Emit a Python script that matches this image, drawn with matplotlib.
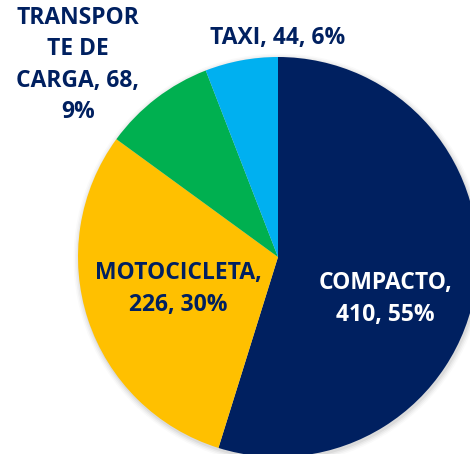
import matplotlib.pyplot as plt

# data
categories = ["COMPACTO", "MOTOCICLETA", "TRANSPORTE DE CARGA", "TAXI"]
values = [410, 226, 68, 44]
percents = [55, 30, 9, 6]
colors = ["#002060", "#FFC000", "#00B050", "#00B0F0"]

label_texts = [
    "COMPACTO,\n410, 55%",
    "MOTOCICLETA,\n226, 30%",
    "TRANSPOR\nTE DE\nCARGA, 68,\n9%",
    "TAXI, 44, 6%",
]
label_pos = [(385, 155), (178, 165), (78, 389), (278, 416)]
label_colors = ["white", "#002060", "#002060", "#002060"]

W, H = 470, 454
fig = plt.figure(figsize=(W / 100, H / 100), dpi=100)
ax = fig.add_axes([0, 0, 1, 1])
ax.set_xlim(0, W)
ax.set_ylim(0, H)
ax.set_aspect("equal")
ax.axis("off")

center = (278, 197)
radius = 200

# soft shadow behind the pie
for i, a in enumerate([0.05, 0.04, 0.03, 0.02]):
    ax.add_patch(plt.Circle((center[0] + 1, center[1] - 2), radius + 1 + i * 1.5,
                            color="black", alpha=a, lw=0, zorder=0))

ax.pie(values, colors=colors, startangle=90, counterclock=False,
       center=center, radius=radius, frame=True,
       wedgeprops=dict(linewidth=0))
ax.set_xlim(0, W)
ax.set_ylim(0, H)
ax.axis("off")

for txt, (x, y), c in zip(label_texts, label_pos, label_colors):
    ax.text(x, y, txt, ha="center", va="center", color=c,
            fontsize=16.5, fontweight="bold", family="Open Sans",
            linespacing=1.4)

fig.savefig("out.png", dpi=100)
